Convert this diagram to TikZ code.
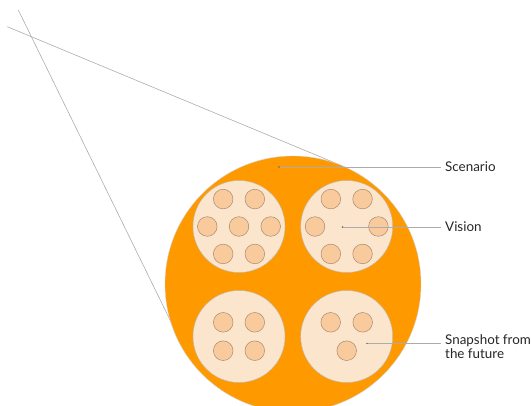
\documentclass[tikz,border=0pt]{standalone}
\usepackage{fontspec}
\setmainfont{Lato}
\definecolor{scenorange}{HTML}{FF9900}
\definecolor{visionfill}{HTML}{FCE5CD}
\definecolor{snapfill}{HTML}{F9CB9C}
\definecolor{snapedge}{HTML}{A88A70}
\tikzset{
  scenario/.style = {circle,fill=scenorange,draw=gray!35,line width=0.4pt,minimum size=256pt,inner sep=0pt},
  vision/.style   = {circle,fill=visionfill,draw=gray!55,line width=0.4pt,minimum size=92pt,inner sep=0pt},
  snap/.style     = {circle,fill=snapfill,draw=snapedge,line width=0.5pt,minimum size=19.6pt,inner sep=0pt},
  zoomline/.style = {gray!65,line width=0.6pt},
  callout/.style  = {gray!65,line width=0.6pt,shorten >=4pt},
  calltext/.style = {anchor=west,inner sep=0pt,align=left,text=black!85,font=\fontsize{13.4}{13.3}\selectfont}
}

\begin{document}
\begin{tikzpicture}[x=1pt,y=-1pt]
  \useasboundingbox (0,0) rectangle (531,405);
  % zoom lines behind the scenario
  \coordinate (zoomA) at (18.3,10);
  \coordinate (zoomAend) at (173,326);
  \coordinate (zoomB) at (7.3,26.7);
  \coordinate (zoomBend) at (346,167.5);
  \draw[zoomline] (zoomA) -- (zoomAend);
  \draw[zoomline] (zoomB) -- (zoomBend);
  \node[scenario] (scen) at (293,284) {};
  \node[vision] (vis1) at (239,226.5) {};
  \node[vision] (vis2) at (346.7,226.5) {};
  \node[vision] (vis3) at (239,336.5) {};
  \node[vision] (vis4) at (346.7,336.5) {};
  % snapshots
  \node[snap] (s1-c) at (vis1.center) {};
  \foreach \a in {0,60,...,300} { \node[snap] (s1-\a) at ([shift={(\a:31.7)}]vis1.center) {}; }
  \foreach \a in {0,60,...,300} { \node[snap] (s2-\a) at ([shift={(\a:31.7)}]vis2.center) {}; }
  \foreach \dx/\dy [count=\i] in {-15.8/-14.2,15.8/-14.2,-15.8/14.2,15.8/14.2} { \node[snap] (s3-\i) at ([shift={(\dx,\dy)}]vis3.center) {}; }
  \foreach \dx/\dy [count=\i] in {-16/-14.2,16/-14.2,0/14.2} { \node[snap] (s4-\i) at ([shift={(\dx,\dy)}]vis4.center) {}; }
  % labels
  \coordinate (scenpt) at (279,167);
  \coordinate (vispt) at (342.5,227);
  \coordinate (snappt) at (367,343.3);
  \node[calltext] (scenlbl) at (445,167) {Scenario};
  \node[calltext] (vislbl) at (445,227) {Vision};
  \node[calltext] (snaplbl) at (445,346.5) {Snapshot from\\the future};
  \draw[callout] (scenpt) -- (scenpt -| scenlbl.west);
  \draw[callout] (vispt) -- (vispt -| vislbl.west);
  \draw[callout] (snappt) -- (snappt -| snaplbl.west);
  \foreach \p in {scenpt,vispt,snappt} { \fill[black!60] (\p) circle (0.8); }
\end{tikzpicture}
\end{document}
